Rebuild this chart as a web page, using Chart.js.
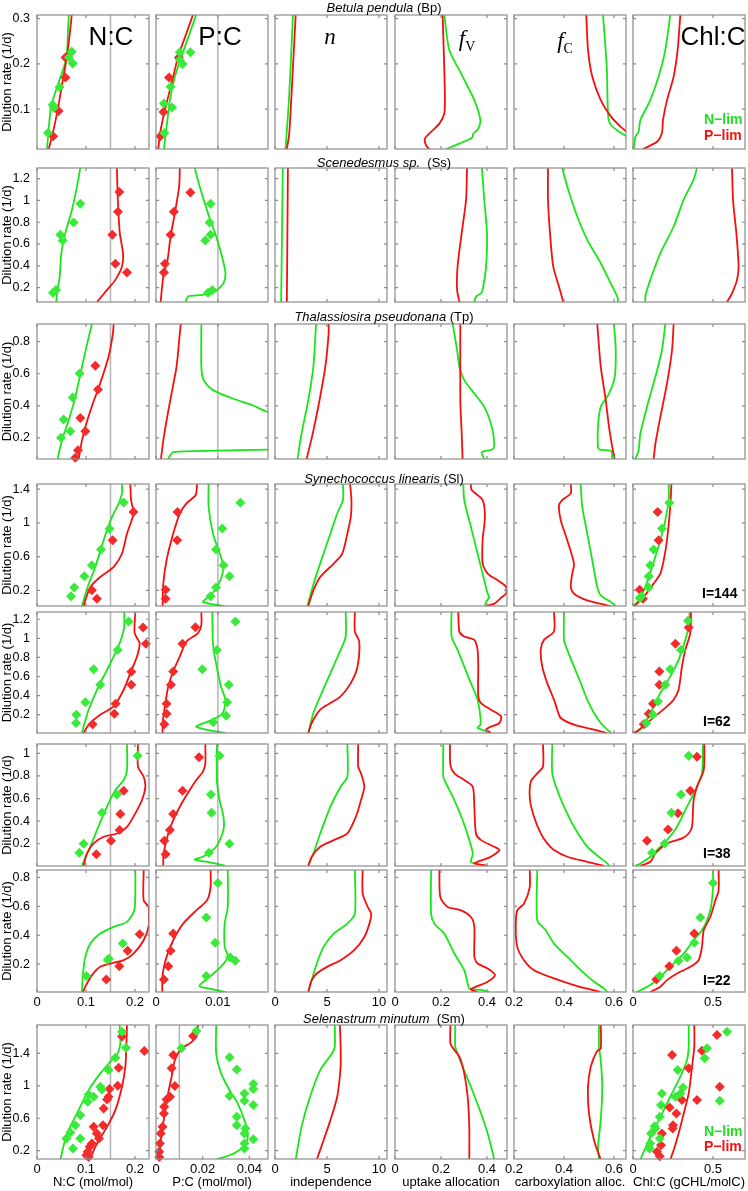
<!DOCTYPE html>
<html>
<head>
<meta charset="utf-8">
<title>Chemostat model fits</title>
<script src="https://cdn.jsdelivr.net/npm/chart.js@4.4.1/dist/chart.umd.min.js"></script>
<style>
  body { margin: 0; background: #fff; }
  #page { position: relative; width: 748px; height: 1191px; overflow: hidden; font-family: "Liberation Sans", Arial, sans-serif; }
  #page canvas { position: absolute; }
  .txt { position: absolute; white-space: nowrap; transform: translate(-50%, -50%); color: #000; line-height: 1; z-index: 2; }
  .sp { font-size: 13px; }
  .big { font-size: 26px; }
  .math { font-family: "Liberation Serif", "DejaVu Serif", serif; font-size: 23px; }
  .sub { font-size: 14px; position: relative; top: 5px; }
  .lab { position: absolute; white-space: nowrap; font-weight: bold; font-size: 14px; transform: translateY(-50%); line-height: 1; z-index: 2; }
</style>
</head>
<body>
<div id="page">
  <div class="txt sp" style="left:384px;top:7px"><i>Betula pendula</i> (Bp)</div>
  <div class="txt sp" style="left:384px;top:162px"><i>Scenedesmus sp.</i>&nbsp; (Ss)</div>
  <div class="txt sp" style="left:384px;top:316px"><i>Thalassiosira pseudonana</i> (Tp)</div>
  <div class="txt sp" style="left:384px;top:478px"><i>Synechococcus linearis</i> (Sl)</div>
  <div class="txt sp" style="left:384px;top:1018px"><i>Selenastrum minutum</i>&nbsp; (Sm)</div>

  <div class="txt big" style="left:111px;top:36px">N:C</div>
  <div class="txt big" style="left:220px;top:36px">P:C</div>
  <div class="txt math" style="left:330px;top:36px"><i>n</i></div>
  <div class="txt math" style="left:467px;top:38px"><i>f</i><span class="sub">V</span></div>
  <div class="txt math" style="left:565px;top:40px"><i>f</i><span class="sub">C</span></div>
  <div class="txt big" style="left:713px;top:36px">Chl:C</div>

  <div class="lab" style="left:704px;top:119px;color:#1fe01f">N&minus;lim</div>
  <div class="lab" style="left:704px;top:135px;color:#f50f0f">P&minus;lim</div>
  <div class="lab" style="left:702px;top:593px">I=144</div>
  <div class="lab" style="left:703px;top:721px">I=62</div>
  <div class="lab" style="left:703px;top:853px">I=38</div>
  <div class="lab" style="left:703px;top:980px">I=22</div>
  <div class="lab" style="left:704px;top:1131px;color:#1fe01f">N&minus;lim</div>
  <div class="lab" style="left:704px;top:1146px;color:#f50f0f">P&minus;lim</div>
</div>
<script>
// axes: dilution rate ranges per species row, x ranges per quantity column
const yRanges = [[0.012, 0.308], [0.068, 1.298], [0.069, 0.91], [0.014, 1.46], [0.008, 1.276], [0.003, 1.083], [0.007, 0.851], [0.098, 1.749]];
const yTicks = [[0.1, 0.2, 0.3], [0.2, 0.4, 0.6, 0.8, 1, 1.2], [0.2, 0.4, 0.6, 0.8], [0.2, 0.6, 1, 1.4],
                [0.2, 0.4, 0.6, 0.8, 1, 1.2], [0.2, 0.4, 0.6, 0.8, 1], [0.2, 0.4, 0.6, 0.8], [0.2, 0.6, 1, 1.4]];
const xRanges = [[0, 0.2286], [0, 0.0181], [0, 10.77], [0, 0.487], [0.2, 0.648], [0, 0.7]];
const xTicks = [[0, 0.1, 0.2], [0, 0.01], [0, 5, 10], [0, 0.2, 0.4], [0.2, 0.4, 0.6], [0, 0.5]];
const pcRangeSm = [0, 0.048];
const pcTicksSm = [0, 0.02, 0.04];
const xTitles = ['N:C (mol/mol)', 'P:C (mol/mol)', 'independence', 'uptake allocation', 'carboxylation alloc.', 'Chl:C (gCHL/molC)'];
const NC_REF = 0.15;
const PC_REF = 0.01;

// ---- Betula pendula (Bp) ----  pairs are [x, dilution rate]
const bpNC_N = [[.0204,.012],[.0286,.105],[.041,.149],[.060,.212],[.063,.268],[.065,.309]];
const bpNC_P = [[.024,.012],[.032,.046],[.042,.098],[.054,.172],[.061,.216],[.067,.268],[.071,.309]];
const bpNC_Nd = [[.0224,.0476],[.032,.110],[.034,.103],[.046,.149],[.065,.214],[.071,.227],[.073,.201]];
const bpNC_Pd = [[.033,.040],[.044,.096],[.058,.170],[.058,.214]];
const bpPC_N = [[.00128,.012],[.00171,.061],[.00225,.120],[.00305,.172],[.00412,.216],[.00545,.268],[.00652,.309]];
const bpPC_P = [[.00037,.012],[.00064,.046],[.00144,.098],[.00251,.157],[.00358,.216],[.00492,.268],[.00599,.309]];
const bpPC_Nd = [[.00134,.0476],[.00128,.1125],[.00262,.1037],[.00235,.1494],[.00385,.2255],[.00556,.2255],[.00385,.2085],[.00428,.200]];
const bpPC_Pd = [[.0007,.040],[.0012,.094],[.0021,.170],[.0037,.214]];
const bpN_N = [[1.01,.012],[1.34,.12],[1.73,.309]];
const bpN_P = [[1.14,.012],[1.37,.046],[1.73,.194],[1.99,.309]];
const bpFV_N = [[.214,.309],[.236,.231],[.287,.179],[.345,.12],[.371,.076],[.362,.057],[.341,.046],[.335,.037],[.280,.024],[.222,.012]];
const bpFV_P = [[.207,.309],[.214,.194],[.217,.12],[.214,.09],[.193,.068],[.157,.05],[.130,.035],[.135,.02],[.149,.012]];
const bpFC_N = [[.556,.309],[.571,.194],[.576,.09],[.584,.068],[.613,.053],[.653,.039]];
const bpFC_P = [[.489,.309],[.496,.231],[.513,.172],[.547,.12],[.589,.083],[.627,.061],[.66,.046]];
const bpChl_N = [[.233,.309],[.202,.231],[.160,.172],[.108,.12],[.046,.076],[.035,.05],[.015,.039],[.004,.012]];
const bpChl_P = [[.296,.309],[.279,.231],[.254,.172],[.2125,.12],[.1875,.076],[.181,.048],[.15,.028],[.0625,.012]];

// ---- Scenedesmus sp. (Ss) ----
const ssNC_N = [[.0884,1.298],[.0816,1.129],[.0714,.915],[.0578,.70],[.0497,.516],[.0463,.301],[.0408,.148],[.0395,.068]];
const ssNC_P = [[.163,1.298],[.165,1.007],[.169,.70],[.1755,.516],[.1735,.393],[.16,.271],[.143,.179],[.1224,.068]];
const ssNC_Nd = [[.0884,.970],[.0748,.798],[.0476,.685],[.0524,.633],[.0327,.154],[.0388,.179]];
const ssNC_Pd = [[.168,1.077],[.1653,.896],[.1537,.685],[.160,.418],[.1837,.338]];
const ssPC_N = [[.00626,1.298],[.00706,1.129],[.0084,.884],[.00973,.669],[.0108,.455],[.01123,.332],[.0109,.24],[.0095,.164],[.0075,.133],[.0052,.12],[.0048,.068]];
const ssPC_P = [[.00385,1.298],[.00374,1.129],[.00305,.884],[.00235,.669],[.00187,.455],[.00118,.301],[.00075,.068]];
const ssPC_Nd = [[.00882,.970],[.00866,.798],[.00882,.685],[.00797,.633],[.0084,.154],[.0091,.179]];
const ssPC_Pd = [[.00556,1.074],[.00289,.896],[.00235,.685],[.00144,.418],[.00128,.338]];
const ssN_N = [[.75,1.298],[.59,.068]];
const ssN_P = [[1.24,1.298],[1.14,.068]];
const ssFV_N = [[.378,1.298],[.388,1.007],[.40,.70],[.396,.393],[.381,.179],[.374,.148],[.352,.117],[.345,.068]];
const ssFV_P = [[.313,1.298],[.309,1.007],[.29,.70],[.272,.393],[.270,.179],[.28,.068]];
const ssFC_N = [[.393,1.298],[.413,1.129],[.453,.853],[.493,.639],[.547,.424],[.587,.24],[.613,.117],[.617,.068]];
const ssFC_P = [[.336,1.298],[.336,1.007],[.344,.70],[.357,.393],[.38,.209],[.397,.068]];
const ssChl_N = [[.40,1.298],[.379,1.191],[.317,1.007],[.254,.761],[.171,.516],[.108,.271],[.0875,.179],[.077,.117],[.077,.068]];
const ssChl_P = [[.619,1.298],[.625,1.007],[.646,.70],[.660,.393],[.65,.271],[.619,.148],[.5875,.068]];

// ---- Thalassiosira pseudonana (Tp) ----
const tpNC_N = [[.1122,.91],[.1034,.80],[.0918,.644],[.0782,.456],[.0646,.31],[.053,.206],[.0442,.102],[.0422,.069]];
const tpNC_P = [[.1565,.91],[.155,.852],[.146,.706],[.129,.54],[.114,.415],[.1007,.29],[.0918,.185],[.085,.069]];
const tpNC_Nd = [[.087,.602],[.0728,.452],[.0544,.315],[.068,.242],[.049,.202]];
const tpNC_Pd = [[.119,.65],[.1245,.502],[.0884,.325],[.0986,.242],[.0837,.123],[.0782,.077]];
const tpPC_N = [[.00733,.91],[.00733,.644],[.0077,.56],[.0092,.498],[.0124,.446],[.0156,.404],[.018,.363],[.025,.31],[.025,.13],[.018,.127],[.0097,.121],[.00278,.1125],[.00214,.081],[.00198,.069]];
const tpPC_P = [[.004,.91],[.00385,.852],[.00332,.644],[.00251,.477],[.00171,.31],[.00118,.185],[.0008,.069]];
const tpN_N = [[3.95,.91],[3.69,.644],[3.2,.435],[2.55,.227],[2.16,.069]];
const tpN_P = [[5.16,.91],[5.16,.852],[4.84,.644],[4.28,.435],[3.63,.227],[3.04,.069]];
const tpFV_N = [[.251,.91],[.27,.748],[.28,.644],[.301,.56],[.345,.477],[.388,.394],[.417,.29],[.429,.206],[.428,.133],[.377,.112],[.388,.069]];
const tpFV_P = [[.284,.91],[.284,.435],[.29,.227],[.294,.069]];
const tpFC_N = [[.60,.91],[.607,.748],[.603,.581],[.58,.477],[.547,.394],[.536,.269],[.536,.144],[.543,.127],[.589,.119],[.593,.069]];
const tpFC_P = [[.533,.91],[.547,.644],[.567,.435],[.58,.269],[.593,.144],[.603,.069]];
const tpChl_N = [[.202,.91],[.181,.748],[.14,.581],[.0875,.394],[.046,.227],[.035,.123],[.015,.069]];
const tpChl_P = [[.254,.91],[.244,.748],[.2125,.54],[.171,.331],[.14,.165],[.129,.069]];

// ---- Synechococcus linearis (Sl), I=144 ----
const sl144NC_N = [[.1735,1.46],[.1735,1.349],[.1667,1.23],[.153,1.07],[.136,.794],[.119,.477],[.1034,.24],[.0918,.014]];
const sl144NC_P = [[.1905,1.46],[.192,1.27],[.197,1.11],[.1837,.873],[.1735,.636],[.1565,.477],[.129,.358],[.109,.24],[.0986,.081],[.0952,.014]];
const sl144NC_Nd = [[.1769,1.242],[.148,.929],[.1306,.683],[.112,.497],[.0966,.366],[.0762,.232],[.0694,.129]];
const sl144NC_Pd = [[.197,1.127],[.1544,.794],[.112,.20],[.1224,.101]];
const sl144PC_N = [[.0085,1.46],[.0085,1.19],[.0092,.873],[.0103,.636],[.0109,.477],[.0104,.319],[.0095,.20],[.0081,.101],[.0076,.062],[.0092,.034],[.0111,.014]];
const sl144PC_P = [[.00663,1.46],[.00642,1.329],[.00492,1.23],[.00385,1.11],[.00278,.873],[.00171,.556],[.00118,.279],[.00107,.014]];
const sl144PC_Nd = [[.01364,1.238],[.0107,.933],[.0097,.683],[.0109,.497],[.01187,.366],[.0097,.232],[.0088,.129]];
const sl144PC_Pd = [[.00348,1.127],[.00342,.794],[.00155,.208],[.00155,.101]];
const sl144N_N = [[6.54,1.46],[6.54,1.27],[5.98,1.11],[5.33,.873],[4.67,.636],[4.02,.398],[3.53,.20],[3.1,.014]];
const sl144N_P = [[7.22,1.46],[7.35,1.27],[7.29,1.07],[6.96,.873],[6.47,.636],[5.65,.517],[4.35,.358],[3.69,.20],[3.2,.014]];
const sl144FV_N = [[.297,1.46],[.301,1.27],[.33,.953],[.359,.636],[.388,.319],[.403,.16],[.41,.121],[.396,.062],[.391,.014]];
const sl144FV_P = [[.33,1.46],[.333,1.39],[.381,1.27],[.391,1.07],[.381,.794],[.381,.517],[.403,.398],[.446,.319],[.483,.24],[.483,.16],[.461,.113],[.454,.093],[.432,.042],[.396,.014]];
const sl144FC_N = [[.467,1.46],[.473,1.19],[.493,.873],[.513,.556],[.533,.24],[.547,.141],[.587,.062],[.607,.014]];
const sl144FC_P = [[.427,1.46],[.427,1.349],[.393,1.27],[.38,1.21],[.387,1.03],[.413,.794],[.44,.517],[.433,.398],[.427,.24],[.44,.16],[.493,.081],[.573,.022],[.587,.014]];
const sl144Chl_N = [[.223,1.46],[.223,1.27],[.202,1.03],[.171,.794],[.119,.477],[.077,.24],[.035,.081],[.004,.014]];
const sl144Chl_P = [[.24,1.46],[.233,1.19],[.2125,.794],[.192,.556],[.171,.398],[.129,.279],[.067,.121],[.025,.042],[.008,.014]];
const sl144Chl_Nd = [[.227,1.238],[.181,.933],[.129,.683],[.108,.497],[.098,.366],[.098,.232],[.052,.129],[.042,.109]];
const sl144Chl_Pd = [[.154,1.127],[.160,.794],[.042,.208],[.0625,.101]];

// ---- Sl, I=62 ----
const sl62NC_N = [[.178,1.28],[.178,1.123],[.1735,1.019],[.163,.879],[.143,.67],[.1224,.461],[.1054,.252],[.0952,.078],[.0918,.008]];
const sl62NC_P = [[.2007,1.28],[.1993,1.054],[.2095,.949],[.2041,.81],[.1905,.636],[.1769,.461],[.1565,.287],[.129,.2],[.1088,.113],[.0986,.043],[.0952,.008]];
const sl62NC_Nd = [[.187,1.176],[.1646,.879],[.1156,.677],[.129,.514],[.0986,.329],[.0803,.20],[.0796,.113]];
const sl62NC_Pd = [[.2163,1.113],[.2224,.942],[.1925,.649],[.1925,.514],[.1605,.315],[.1578,.210],[.1136,.099]];
const sl62PC_N = [[.0091,1.28],[.0092,.949],[.0096,.775],[.0105,.496],[.0112,.357],[.0108,.217],[.0092,.148],[.0065,.078],[.0081,.043],[.0112,.008]];
const sl62PC_P = [[.00733,1.28],[.00733,1.14],[.00679,1.054],[.00492,.967],[.00385,.81],[.00278,.653],[.00198,.496],[.00144,.287],[.00107,.113],[.00107,.008]];
const sl62PC_Nd = [[.01283,1.176],[.00984,.879],[.00749,.677],[.01176,.514],[.0115,.329],[.01134,.19],[.00925,.12]];
const sl62PC_Pd = [[.00636,1.116],[.00428,.942],[.00278,.653],[.00241,.514],[.00171,.315],[.00171,.21],[.00134,.099]];
const sl62N_N = [[6.8,1.28],[6.8,1.019],[6.31,.879],[5.33,.636],[4.35,.392],[3.69,.217],[3.2,.008]];
const sl62N_P = [[7.68,1.28],[7.68,1.071],[8.1,.967],[7.94,.705],[7.29,.531],[6.31,.392],[5.33,.322],[4.35,.252],[3.53,.113],[3.2,.008]];
const sl62FV_N = [[.246,1.28],[.246,1.019],[.272,.879],[.301,.705],[.33,.531],[.359,.357],[.371,.183],[.371,.095],[.359,.061],[.396,.026],[.41,.008]];
const sl62FV_P = [[.275,1.28],[.28,1.071],[.301,1.019],[.345,.984],[.359,.879],[.362,.705],[.362,.392],[.374,.322],[.417,.252],[.461,.183],[.454,.113],[.41,.067],[.396,.043],[.417,.008]];
const sl62FC_N = [[.40,1.28],[.40,.984],[.413,.879],[.44,.705],[.467,.531],[.493,.357],[.52,.217],[.547,.113],[.573,.043],[.589,.008]];
const sl62FC_P = [[.36,1.28],[.36,1.071],[.32,.984],[.307,.879],[.313,.705],[.333,.531],[.36,.357],[.373,.252],[.387,.165],[.44,.095],[.52,.043],[.573,.008]];
const sl62Chl_N = [[.354,1.28],[.348,1.123],[.327,.984],[.285,.775],[.233,.601],[.171,.427],[.129,.287],[.0875,.148],[.046,.043],[.004,.008]];
const sl62Chl_P = [[.3625,1.28],[.358,1.054],[.327,.879],[.306,.705],[.285,.461],[.254,.357],[.2125,.287],[.15,.2],[.0875,.113],[.025,.026],[.004,.008]];
const sl62Chl_Nd = [[.344,1.183],[.30,.879],[.233,.677],[.202,.514],[.156,.339],[.125,.20],[.083,.113]];
const sl62Chl_Pd = [[.348,1.113],[.265,.942],[.165,.653],[.165,.514],[.125,.315],[.098,.21],[.067,.099]];

// ---- Sl, I=38 ----
const sl38NC_N = [[.1837,1.083],[.1837,.852],[.1769,.764],[.16,.675],[.1429,.528],[.1224,.321],[.1088,.174],[.0966,.056],[.0918,.005]];
const sl38NC_P = [[.2061,1.083],[.2061,.882],[.2177,.793],[.2211,.705],[.2143,.587],[.2007,.469],[.1837,.35],[.1633,.291],[.136,.262],[.1156,.203],[.102,.114],[.0952,.005]];
const sl38NC_Nd = [[.2054,.979],[.1633,.637],[.1327,.475],[.0952,.20],[.0864,.12]];
const sl38NC_Pd = [[.1769,.669],[.17,.463],[.1687,.321],[.151,.227],[.121,.108]];
const sl38PC_N = [[.00984,1.083],[.00984,.764],[.01027,.587],[.0109,.44],[.0109,.321],[.00973,.174],[.0076,.085],[.00626,.061],[.00813,.041],[.01123,.005]];
const sl38PC_P = [[.00797,1.083],[.00797,.911],[.00759,.838],[.00652,.764],[.00545,.675],[.00385,.528],[.00278,.41],[.00198,.291],[.00144,.174],[.00118,.085],[.00118,.005]];
const sl38PC_Nd = [[.01027,.979],[.00888,.637],[.00898,.475],[.01187,.20],[.00856,.12]];
const sl38PC_Pd = [[.00695,.965],[.00428,.669],[.00278,.463],[.00225,.321],[.00134,.227],[.00155,.108]];
const sl38N_N = [[6.96,1.083],[6.96,.793],[6.31,.705],[5.33,.528],[4.35,.291],[3.69,.114],[3.2,.005]];
const sl38N_P = [[8.0,1.083],[8.0,.882],[8.27,.823],[8.59,.705],[8.27,.587],[7.78,.439],[6.96,.291],[5.65,.232],[4.35,.173],[3.53,.085],[3.2,.005]];
const sl38FV_N = [[.21,1.083],[.21,.793],[.222,.734],[.258,.587],[.294,.41],[.323,.232],[.338,.114],[.33,.04],[.345,.026],[.396,.005]];
const sl38FV_P = [[.239,1.083],[.241,.897],[.258,.823],[.301,.764],[.338,.705],[.345,.528],[.352,.291],[.374,.232],[.432,.173],[.454,.144],[.417,.085],[.359,.04],[.345,.026],[.403,.005]];
const sl38FC_N = [[.353,1.083],[.353,.823],[.373,.675],[.40,.528],[.44,.351],[.493,.174],[.547,.07],[.573,.026],[.58,.005]];
const sl38FC_P = [[.316,1.083],[.316,.882],[.293,.823],[.267,.749],[.264,.587],[.28,.439],[.307,.291],[.333,.203],[.36,.144],[.413,.085],[.493,.04],[.56,.005]];
const sl38Chl_N = [[.4375,1.083],[.431,.823],[.39,.675],[.3375,.528],[.275,.351],[.2125,.233],[.15,.144],[.108,.085],[.046,.026],[.015,.005]];
const sl38Chl_P = [[.446,1.083],[.442,.852],[.40,.705],[.379,.587],[.369,.351],[.348,.291],[.306,.247],[.2125,.203],[.14,.114],[.108,.04],[.046,.005]];
const sl38Chl_Nd = [[.348,.979],[.30,.637],[.24,.475],[.198,.203],[.119,.12]];
const sl38Chl_Pd = [[.40,.97],[.358,.669],[.281,.469],[.219,.327],[.0875,.227]];

// ---- Sl, I=22 ----
const sl22NC_N = [[.2007,.851],[.2007,.733],[.1986,.572],[.1837,.492],[.1565,.458],[.129,.411],[.109,.342],[.0986,.250],[.0939,.135],[.0918,.007]];
const sl22NC_P = [[.2177,.851],[.2177,.641],[.2279,.595],[.229,.48],[.2177,.365],[.197,.273],[.1769,.227],[.1497,.204],[.129,.182],[.1122,.124],[.0986,.044],[.0939,.007]];
const sl22NC_Nd = [[.175,.342],[.1442,.228],[.1466,.237],[.1007,.117]];
const sl22NC_Pd = [[.2095,.407],[.185,.292],[.168,.186],[.1415,.094]];
const sl22PC_N = [[.0116,.851],[.0116,.595],[.0111,.48],[.0111,.32],[.0116,.251],[.0105,.182],[.0087,.113],[.007,.048],[.0092,.025],[.0113,.007]];
const sl22PC_P = [[.00882,.851],[.00882,.733],[.00824,.641],[.00652,.572],[.00439,.48],[.00278,.365],[.00171,.25],[.00118,.158],[.00102,.089],[.00102,.007]];
const sl22PC_Nd = [[.01,.761],[.00813,.522],[.00957,.347],[.0120,.246],[.01283,.223],[.00813,.117]];
const sl22PC_Pd = [[.00278,.411],[.00235,.292],[.00198,.186],[.00128,.094]];
const sl22N_N = [[7.68,.851],[7.68,.549],[6.96,.48],[5.65,.411],[4.67,.319],[4.02,.204],[3.53,.089],[3.2,.007]];
const sl22N_P = [[8.43,.851],[8.43,.687],[8.92,.595],[9.25,.549],[9.08,.48],[8.59,.388],[7.61,.296],[6.31,.227],[5.0,.181],[4.02,.135],[3.53,.089],[3.2,.007]];
const sl22FV_N = [[.157,.851],[.157,.549],[.171,.48],[.214,.411],[.258,.273],[.301,.158],[.316,.066],[.323,.032],[.374,.021],[.41,.007]];
const sl22FV_P = [[.193,.851],[.197,.664],[.229,.595],[.287,.572],[.33,.526],[.345,.457],[.345,.251],[.359,.204],[.403,.170],[.435,.124],[.403,.078],[.345,.039],[.33,.025],[.359,.007]];
const sl22FC_N = [[.293,.851],[.293,.503],[.327,.434],[.36,.342],[.413,.251],[.467,.158],[.52,.078],[.56,.032],[.573,.007]];
const sl22FC_P = [[.263,.851],[.263,.733],[.24,.618],[.213,.572],[.207,.457],[.213,.319],[.24,.227],[.28,.158],[.36,.101],[.453,.048],[.547,.007]];
const sl22Chl_N = [[.50,.851],[.50,.733],[.4875,.595],[.4625,.503],[.431,.434],[.379,.365],[.317,.273],[.233,.181],[.171,.113],[.108,.055],[.025,.007]];
const sl22Chl_P = [[.535,.851],[.535,.71],[.515,.641],[.483,.526],[.442,.434],[.431,.319],[.41,.227],[.358,.181],[.275,.135],[.2125,.089],[.171,.044],[.108,.007]];
const sl22Chl_Nd = [[.50,.761],[.421,.522],[.383,.347],[.3375,.246],[.285,.223],[.167,.117]];
const sl22Chl_Pd = [[.383,.411],[.271,.292],[.227,.186],[.146,.094]];

// ---- Selenastrum minutum (Sm) ----
const smNC_N = [[.1687,1.75],[.1701,1.523],[.1646,1.40],[.1497,1.297],[.1293,1.153],[.1054,.947],[.0816,.659],[.0612,.412],[.0476,.091]];
const smNC_P = [[.1837,1.75],[.1823,1.482],[.1803,1.235],[.1735,.988],[.1599,.70],[.1429,.494],[.1224,.288],[.1075,.091]];
const smNC_Nd = [[.1735,1.667],[.1816,1.47],[.16,1.346],[.146,1.194],[.129,.988],[.1327,.955],[.1054,.894],[.1156,.865],[.1034,.803],[.0884,.638],[.0782,.515],[.068,.425],[.0599,.35],[.0884,.35],[.0735,.227]];
const smNC_Pd = [[.1735,1.606],[.219,1.429],[.1667,1.223],[.1646,1.0],[.148,.96],[.146,.865],[.143,.832],[.136,.721],[.1347,.515],[.1265,.35],[.122,.412],[.1156,.494],[.112,.289],[.1075,.248],[.1034,.186],[.1007,.145],[.1054,.124]];
const smPC_N = [[.0258,1.75],[.0258,1.40],[.0279,1.153],[.0315,.947],[.035,.783],[.0379,.577],[.0393,.412],[.0386,.288],[.0357,.206],[.0315,.144],[.0258,.091]];
const smPC_P = [[.018,1.75],[.0173,1.606],[.0145,1.523],[.0109,1.462],[.0081,1.318],[.0067,1.112],[.0052,.906],[.0038,.659],[.0024,.412],[.0014,.091]];
const smPC_Nd = [[.0173,1.676],[.0109,1.462],[.0315,1.351],[.0346,1.202],[.0417,1.021],[.0417,.96],[.0379,.906],[.0315,.873],[.0379,.816],[.0417,.762],[.0346,.618],[.0346,.515],[.0383,.474],[.0379,.412],[.0417,.342],[.0379,.289],[.0379,.227]];
const smPC_Pd = [[.0159,1.614],[.0074,1.379],[.0067,1.215],[.0081,.997],[.006,.865],[.0045,.83],[.0035,.742],[.0034,.659],[.0028,.494],[.002,.412],[.0017,.289],[.0014,.186],[.0014,.124]];
const smN_N = [[5.75,1.75],[5.75,1.482],[5.49,1.40],[4.35,1.194],[3.37,.865],[2.55,.494],[1.99,.091]];
const smN_P = [[6.24,1.75],[6.31,1.482],[6.31,1.235],[5.98,.865],[5.33,.577],[4.67,.33],[4.02,.091]];
const smFV_N = [[.262,1.75],[.262,1.482],[.272,1.40],[.294,1.235],[.33,.988],[.374,.659],[.403,.412],[.432,.091]];
const smFV_P = [[.241,1.75],[.241,1.523],[.258,1.441],[.28,1.359],[.301,1.153],[.316,.865],[.323,.494],[.323,.091]];
const smFC_N = [[.54,1.75],[.54,1.482],[.547,1.318],[.553,.988],[.547,.577],[.536,.248],[.54,.091]];
const smFC_P = [[.547,1.75],[.547,1.462],[.531,1.421],[.507,1.235],[.496,.988],[.50,.659],[.52,.33],[.547,.091]];
const smChl_N = [[.348,1.75],[.348,1.482],[.3375,1.318],[.296,1.112],[.233,.865],[.171,.618],[.108,.371],[.046,.091]];
const smChl_P = [[.383,1.75],[.383,1.482],[.369,1.235],[.348,.906],[.317,.659],[.285,.412],[.254,.206],[.233,.091]];
const smChl_Nd = [[.5875,1.667],[.4625,1.462],[.448,1.338],[.279,1.194],[.3125,.98],[.296,.906],[.265,.865],[.181,.906],[.542,.816],[.175,.762],[.167,.618],[.135,.503],[.14,.474],[.1125,.412],[.167,.35],[.108,.289],[.104,.227]];
const smChl_Pd = [[.525,1.626],[.431,1.433],[.244,1.379],[.348,1.215],[.542,.988],[.40,.824],[.306,.824],[.229,.733],[.271,.659],[.25,.515],[.248,.474],[.181,.412],[.175,.268],[.15,.186],[.167,.133]];

// per row: [N-lim line, P-lim line] for each column, and observations by column index
const rows = [
  { lines: [[bpNC_N, bpNC_P], [bpPC_N, bpPC_P], [bpN_N, bpN_P], [bpFV_N, bpFV_P], [bpFC_N, bpFC_P], [bpChl_N, bpChl_P]],
    obs: { 0: [bpNC_Nd, bpNC_Pd], 1: [bpPC_Nd, bpPC_Pd] } },
  { lines: [[ssNC_N, ssNC_P], [ssPC_N, ssPC_P], [ssN_N, ssN_P], [ssFV_N, ssFV_P], [ssFC_N, ssFC_P], [ssChl_N, ssChl_P]],
    obs: { 0: [ssNC_Nd, ssNC_Pd], 1: [ssPC_Nd, ssPC_Pd] } },
  { lines: [[tpNC_N, tpNC_P], [tpPC_N, tpPC_P], [tpN_N, tpN_P], [tpFV_N, tpFV_P], [tpFC_N, tpFC_P], [tpChl_N, tpChl_P]],
    obs: { 0: [tpNC_Nd, tpNC_Pd] } },
  { lines: [[sl144NC_N, sl144NC_P], [sl144PC_N, sl144PC_P], [sl144N_N, sl144N_P], [sl144FV_N, sl144FV_P], [sl144FC_N, sl144FC_P], [sl144Chl_N, sl144Chl_P]],
    obs: { 0: [sl144NC_Nd, sl144NC_Pd], 1: [sl144PC_Nd, sl144PC_Pd], 5: [sl144Chl_Nd, sl144Chl_Pd] } },
  { lines: [[sl62NC_N, sl62NC_P], [sl62PC_N, sl62PC_P], [sl62N_N, sl62N_P], [sl62FV_N, sl62FV_P], [sl62FC_N, sl62FC_P], [sl62Chl_N, sl62Chl_P]],
    obs: { 0: [sl62NC_Nd, sl62NC_Pd], 1: [sl62PC_Nd, sl62PC_Pd], 5: [sl62Chl_Nd, sl62Chl_Pd] } },
  { lines: [[sl38NC_N, sl38NC_P], [sl38PC_N, sl38PC_P], [sl38N_N, sl38N_P], [sl38FV_N, sl38FV_P], [sl38FC_N, sl38FC_P], [sl38Chl_N, sl38Chl_P]],
    obs: { 0: [sl38NC_Nd, sl38NC_Pd], 1: [sl38PC_Nd, sl38PC_Pd], 5: [sl38Chl_Nd, sl38Chl_Pd] } },
  { lines: [[sl22NC_N, sl22NC_P], [sl22PC_N, sl22PC_P], [sl22N_N, sl22N_P], [sl22FV_N, sl22FV_P], [sl22FC_N, sl22FC_P], [sl22Chl_N, sl22Chl_P]],
    obs: { 0: [sl22NC_Nd, sl22NC_Pd], 1: [sl22PC_Nd, sl22PC_Pd], 5: [sl22Chl_Nd, sl22Chl_Pd] } },
  { lines: [[smNC_N, smNC_P], [smPC_N, smPC_P], [smN_N, smN_P], [smFV_N, smFV_P], [smFC_N, smFC_P], [smChl_N, smChl_P]],
    obs: { 0: [smNC_Nd, smNC_Pd], 1: [smPC_Nd, smPC_Pd], 5: [smChl_Nd, smChl_Pd] } },
];

// page layout (px)
const colLeft = [37, 156, 275, 395, 514, 633];
const rowTop = [15, 168, 324, 484, 612, 744, 870, 1025];
const rowH = [134, 134, 135, 122, 121, 122, 122, 134];
const panelW = 112;
const GREEN = '#19e619', RED = '#f50f0f', DOT_G = '#3aea3a', DOT_R = '#f52a2a';
const FONT = '"Liberation Sans", Arial, sans-serif';

const pts = a => a.map(([x, y]) => ({ x, y }));
const fmt = v => String(+(+v).toFixed(3));

// matlab-style box with inward tick marks
const framePlugin = {
  id: 'frame',
  afterDatasetsDraw(chart) {
    const { ctx, chartArea: a, scales: { x, y } } = chart;
    ctx.save();
    ctx.strokeStyle = '#8c8c8c';
    ctx.lineWidth = 1.2;
    ctx.strokeRect(a.left, a.top, a.right - a.left, a.bottom - a.top);
    ctx.beginPath();
    x.ticks.forEach(t => {
      const p = x.getPixelForValue(t.value);
      ctx.moveTo(p, a.bottom); ctx.lineTo(p, a.bottom - 3);
      ctx.moveTo(p, a.top); ctx.lineTo(p, a.top + 3);
    });
    y.ticks.forEach(t => {
      const p = y.getPixelForValue(t.value);
      ctx.moveTo(a.left, p); ctx.lineTo(a.left + 3, p);
      ctx.moveTo(a.right, p); ctx.lineTo(a.right - 3, p);
    });
    ctx.stroke();
    ctx.restore();
  }
};

const page = document.getElementById('page');

rows.forEach((row, r) => {
  row.lines.forEach((pair, c) => {
    const padL = c === 0 ? 37 : 10, padR = 6, padT = 8;
    const padB = r === 7 ? 32 : r === 6 ? 22 : 6;
    const smPC = r === 7 && c === 1;
    const xr = smPC ? pcRangeSm : xRanges[c];
    const xt = smPC ? pcTicksSm : xTicks[c];
    const [yMin, yMax] = yRanges[r];

    const canvas = document.createElement('canvas');
    canvas.width = panelW + padL + padR;
    canvas.height = rowH[r] + padT + padB;
    canvas.style.left = (colLeft[c] - padL) + 'px';
    canvas.style.top = (rowTop[r] - padT) + 'px';
    page.appendChild(canvas);

    const datasets = [];
    if (row.obs[c]) {
      const [nd, pd] = row.obs[c];
      datasets.push({ data: pts(nd), pointStyle: 'rectRot', pointRadius: 5, backgroundColor: DOT_G, borderColor: DOT_G, borderWidth: 0, clip: false });
      datasets.push({ data: pts(pd), pointStyle: 'rectRot', pointRadius: 5, backgroundColor: DOT_R, borderColor: DOT_R, borderWidth: 0, clip: false });
    }
    datasets.push({ data: pts(pair[1]), showLine: true, pointRadius: 0, borderColor: RED, borderWidth: 1.8, tension: 0.25, clip: 0 });
    datasets.push({ data: pts(pair[0]), showLine: true, pointRadius: 0, borderColor: GREEN, borderWidth: 1.8, tension: 0.25, clip: 0 });
    if (c === 0 || c === 1) {
      const ref = c === 0 ? NC_REF : PC_REF;
      datasets.push({ data: [{ x: ref, y: yMin }, { x: ref, y: yMax }], showLine: true, pointRadius: 0, borderColor: '#b4b4b4', borderWidth: 1.5, clip: 0 });
    }

    new Chart(canvas, {
      type: 'scatter',
      data: { datasets },
      plugins: [framePlugin],
      options: {
        responsive: false,
        animation: false,
        events: [],
        layout: { padding: { left: 0, top: padT, right: padR, bottom: 0 } },
        plugins: { legend: { display: false }, tooltip: { enabled: false } },
        scales: {
          x: {
            type: 'linear', min: xr[0], max: xr[1], bounds: 'data',
            grid: { display: false, drawTicks: false }, border: { display: false },
            afterBuildTicks: s => { s.ticks = xt.map(v => ({ value: v })); },
            afterFit: s => { s.height = padB; s.paddingLeft = 0; s.paddingRight = 0; },
            ticks: { display: r >= 6, color: '#000', padding: 3, maxRotation: 0, autoSkip: false,
                     font: { family: FONT, size: 13 }, callback: fmt },
            title: { display: r === 7, text: xTitles[c], color: '#000', font: { family: FONT, size: 13 }, padding: { top: 0, bottom: 1 } }
          },
          y: {
            type: 'linear', min: yMin, max: yMax, bounds: 'data',
            grid: { display: false, drawTicks: false }, border: { display: false },
            afterBuildTicks: s => { s.ticks = yTicks[r].map(v => ({ value: v })); },
            afterFit: s => { s.width = padL; s.paddingTop = 0; s.paddingBottom = 0; },
            ticks: { display: c === 0, color: '#000', padding: 7, autoSkip: false,
                     font: { family: FONT, size: 12.5 }, callback: fmt },
            title: { display: c === 0, text: 'Dilution rate (1/d)', color: '#000', font: { family: FONT, size: 13 }, padding: 0 }
          }
        }
      }
    });
  });
});
</script>
</body>
</html>
